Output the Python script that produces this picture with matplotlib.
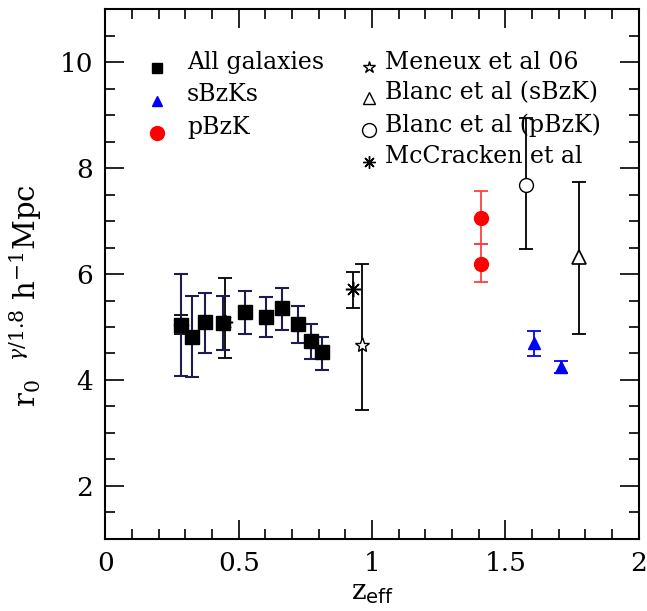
import matplotlib
matplotlib.use("Agg")
import matplotlib.pyplot as plt
from matplotlib.ticker import MultipleLocator

plt.rcParams["font.family"] = "DejaVu Serif"
plt.rcParams["mathtext.fontset"] = "dejavuserif"

# all galaxies
z_all = [0.284, 0.325, 0.375, 0.442, 0.525, 0.602, 0.662, 0.722, 0.772, 0.812]
r_all = [5.04, 4.81, 5.09, 5.08, 5.28, 5.19, 5.35, 5.06, 4.73, 4.52]
r_all_hi = [6.00, 5.58, 5.65, 5.58, 5.68, 5.57, 5.73, 5.40, 5.06, 4.82]
r_all_lo = [4.08, 4.06, 4.51, 4.57, 4.86, 4.82, 4.95, 4.70, 4.39, 4.19]

# sBzK
z_sbzk = [1.608, 1.708]
r_sbzk = [4.70, 4.25]
r_sbzk_hi = [4.93, 4.36]
r_sbzk_lo = [4.45, 4.14]

# pBzK
z_pbzk = [1.409, 1.409]
r_pbzk = [7.06, 6.18]
r_pbzk_hi = [7.57, 6.57]
r_pbzk_lo = [6.57, 5.85]

# Meneux et al 06
z_men = [0.961]
r_men = [4.66]
r_men_hi = [6.19]
r_men_lo = [3.43]

# Blanc et al (sBzK)
z_bs = [1.776]
r_bs = [6.33]
r_bs_hi = [7.74]
r_bs_lo = [4.86]

# Blanc et al (pBzK)
z_bp = [1.578]
r_bp = [7.69]
r_bp_hi = [8.95]
r_bp_lo = [6.47]

# McCracken et al
z_mc = [0.284, 0.449, 0.930]
r_mc = [5.04, 5.10, 5.71]
r_mc_hi = [5.23, 5.93, 6.04]
r_mc_lo = [4.86, 4.41, 5.35]

asterisk = (8, 2, 0)


def yerr(r, hi, lo):
    return [[a - b for a, b in zip(r, lo)], [b - a for a, b in zip(r, hi)]]


fig = plt.figure(figsize=(6.47, 6.11), dpi=100)
ax = fig.add_axes([0.163, 0.118, 0.824, 0.867])

cap = 5
ax.errorbar(z_mc, r_mc, yerr=yerr(r_mc, r_mc_hi, r_mc_lo), fmt="none",
            ecolor="black", elinewidth=1.3, capsize=cap, capthick=1.3)
ax.plot(z_mc, r_mc, linestyle="none", marker=asterisk, markersize=11,
        color="black", markeredgewidth=1.1)

ax.errorbar(z_all, r_all, yerr=yerr(r_all, r_all_hi, r_all_lo), fmt="none",
            ecolor="#1c1c50", elinewidth=1.5, capsize=cap, capthick=1.5)
ax.plot(z_all, r_all, linestyle="none", marker="s", markersize=9.5,
        color="black")

ax.errorbar(z_men, r_men, yerr=yerr(r_men, r_men_hi, r_men_lo), fmt="none",
            ecolor="black", elinewidth=1.3, capsize=cap, capthick=1.3)
ax.plot(z_men, r_men, linestyle="none", marker="*", markersize=11,
        markerfacecolor="white", markeredgecolor="black", markeredgewidth=1.0)

ax.errorbar(z_pbzk, r_pbzk, yerr=yerr(r_pbzk, r_pbzk_hi, r_pbzk_lo), fmt="none",
            ecolor="#ff4040", elinewidth=1.3, capsize=cap, capthick=1.3)
ax.plot(z_pbzk, r_pbzk, linestyle="none", marker="o", markersize=10,
        color="#ff0000")

ax.errorbar(z_bp, r_bp, yerr=yerr(r_bp, r_bp_hi, r_bp_lo), fmt="none",
            ecolor="black", elinewidth=1.3, capsize=cap, capthick=1.3)
ax.plot(z_bp, r_bp, linestyle="none", marker="o", markersize=10,
        markerfacecolor="white", markeredgecolor="black", markeredgewidth=1.0)

ax.errorbar(z_sbzk, r_sbzk, yerr=yerr(r_sbzk, r_sbzk_hi, r_sbzk_lo), fmt="none",
            ecolor="#0000ff", elinewidth=1.3, capsize=cap, capthick=1.3)
ax.plot(z_sbzk, r_sbzk, linestyle="none", marker="^", markersize=8,
        color="#0000ff")

ax.errorbar(z_bs, r_bs, yerr=yerr(r_bs, r_bs_hi, r_bs_lo), fmt="none",
            ecolor="black", elinewidth=1.3, capsize=cap, capthick=1.3)
ax.plot(z_bs, r_bs, linestyle="none", marker="^", markersize=10,
        markerfacecolor="white", markeredgecolor="black", markeredgewidth=1.2)

ax.set_xlim(0, 2)
ax.set_ylim(1, 11)
ax.xaxis.set_major_locator(MultipleLocator(0.5))
ax.xaxis.set_minor_locator(MultipleLocator(0.1))
ax.yaxis.set_major_locator(MultipleLocator(2))
ax.yaxis.set_minor_locator(MultipleLocator(0.5))
ax.set_xticks([0, 0.5, 1, 1.5, 2])
ax.set_xticklabels(["0", "0.5", "1", "1.5", "2"])
ax.tick_params(which="both", direction="in", top=True, right=True,
               labelsize=19, width=1.2)
ax.tick_params(which="major", length=14, pad=9)
ax.tick_params(which="minor", length=7)
for s in ax.spines.values():
    s.set_linewidth(1.5)

ax.set_xlabel(r"z$_{\mathsf{eff}}$", fontsize=20, labelpad=2)
ax.set_ylabel(r"r$_0$ $\ ^{\gamma/1.8}$ h$^{-1}$Mpc", fontsize=21)
ax.yaxis.set_label_coords(-0.115, 0.46)

# hand-placed legend (two columns, like the original)
leg_fs = 17
left_labels = ["All galaxies", "sBzKs", "pBzK"]
left_styles = [dict(marker="s", markersize=7, color="black"),
               dict(marker="^", markersize=7, color="#0000ff"),
               dict(marker="o", markersize=10, color="#ff0000")]
left_rows = [0.900, 0.838, 0.777]
for lab, st, yy in zip(left_labels, left_styles, left_rows):
    ax.plot([0.097], [yy - 0.011], linestyle="none", transform=ax.transAxes,
            clip_on=False, **st)
    ax.text(0.153, yy, lab, transform=ax.transAxes, fontsize=leg_fs,
            va="center", ha="left")

right_labels = ["Meneux et al 06", "Blanc et al (sBzK)", "Blanc et al (pBzK)",
                "McCracken et al"]
right_styles = [dict(marker="*", markersize=9, markerfacecolor="white",
                     markeredgecolor="black"),
                dict(marker="^", markersize=8, markerfacecolor="white",
                     markeredgecolor="black"),
                dict(marker="o", markersize=10, markerfacecolor="white",
                     markeredgecolor="black"),
                dict(marker=asterisk, markersize=9, color="black")]
right_rows = [0.900, 0.842, 0.781, 0.721]
for lab, st, yy in zip(right_labels, right_styles, right_rows):
    ax.plot([0.494], [yy - 0.010], linestyle="none", transform=ax.transAxes,
            clip_on=False, **st)
    ax.text(0.524, yy, lab, transform=ax.transAxes, fontsize=leg_fs,
            va="center", ha="left")

fig.savefig("out.png", dpi=100)
